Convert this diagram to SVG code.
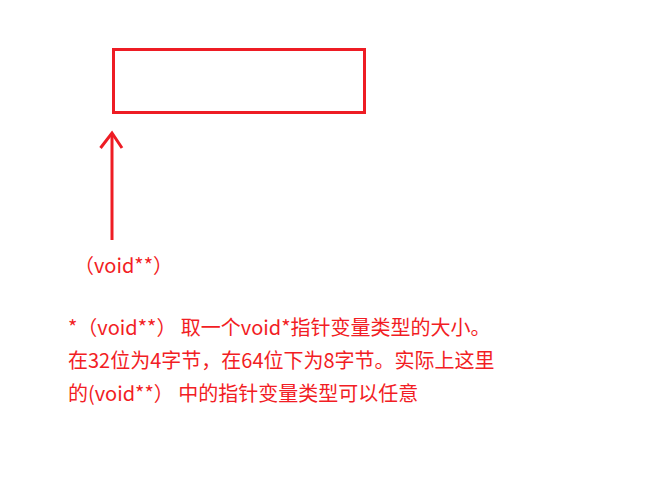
<svg xmlns="http://www.w3.org/2000/svg" width="670" height="498" viewBox="0 0 670 498">
<style>
.s{fill:none;stroke:#ee1c24;stroke-width:3}
.t{font-family:"Microsoft YaHei","Noto Sans CJK SC","Noto Sans",sans-serif;font-size:20px;fill:#f21d24}
</style>
<rect width="670" height="498" fill="#fff"/>
<g id="box"><rect class="s" x="113.5" y="49.5" width="251" height="63"/></g>
<g id="connectors">
<line class="s" x1="112" y1="240" x2="112" y2="134"/>
<polyline class="s" points="100.5,148 112,133 122,148"/>
</g>
<g id="label"><text class="t" x="74" y="273">（void**）</text></g>
<g id="note">
<text class="t" x="68" y="335">*（void**） 取一个void*指针变量类型的大小。</text>
<text class="t" x="68" y="368">在32位为4字节，在64位下为8字节。实际上这里</text>
<text class="t" x="68" y="401">的(void**） 中的指针变量类型可以任意</text>
</g>
</svg>
